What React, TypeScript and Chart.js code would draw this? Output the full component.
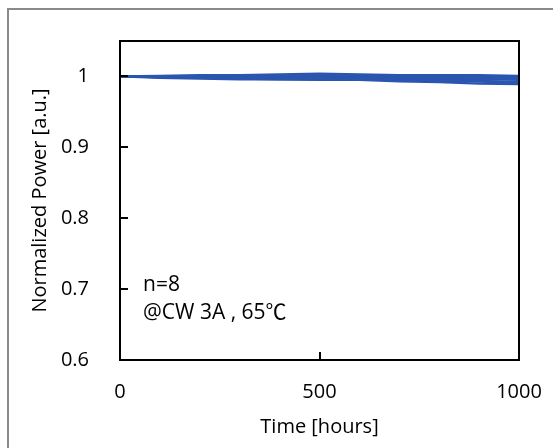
import React, { useEffect, useRef } from "react";
import { Chart, registerables } from "chart.js";

Chart.register(...registerables);

const hours = [0, 100, 200, 300, 400, 500, 600, 700, 800, 900, 1000];
const series1 = [1.0, 1.001, 1.002, 1.002, 1.003, 1.004, 1.003, 1.002, 1.002, 1.002, 1.001];
const series2 = [1.0, 1.0, 1.001, 1.001, 1.002, 1.002, 1.002, 1.001, 1.0, 1.0, 0.999];
const series3 = [1.0, 0.999, 0.998, 0.997, 0.996, 0.996, 0.996, 0.995, 0.994, 0.993, 0.992];
const series4 = [1.0, 0.998, 0.997, 0.996, 0.996, 0.995, 0.995, 0.993, 0.992, 0.99, 0.989];
const series5 = [1.0, 1.0, 1.0, 1.0, 1.0, 1.001, 1.0, 1.0, 0.999, 0.998, 0.997];
const series6 = [1.0, 0.999, 0.999, 0.998, 0.998, 0.998, 0.997, 0.996, 0.995, 0.994, 0.991];
const series7 = [1.0, 1.0, 0.999, 0.999, 0.999, 0.999, 0.999, 0.998, 0.997, 0.996, 0.995];
const series8 = [1.0, 0.999, 0.998, 0.998, 0.997, 0.997, 0.996, 0.995, 0.994, 0.993, 0.99];
const allSeries = [series1, series2, series3, series4, series5, series6, series7, series8];

const yTicks = [0.6, 0.7, 0.8, 0.9, 1.0];
const xTicks = [0, 500, 1000];
const yMin = 0.6;
const yMax = 1.05;
const xMin = 0;
const xMax = 1000;

const annotationLines = ["n=8", "@CW 3A , 65\u2103"];
const xTitle = "Time [hours]";
const yTitle = "Normalized Power [a.u.]";

const FONT = "'Open Sans', 'Noto Sans CJK KR', sans-serif";
const LINE_COLOR = "#2A56B0";

export default function App() {
  const ref = useRef<HTMLCanvasElement | null>(null);

  useEffect(() => {
    if (!ref.current) return;

    const framePlugin = {
      id: "framePlugin",
      beforeDraw(chart: any) {
        const ctx = chart.ctx;
        ctx.save();
        ctx.strokeStyle = "#8a8a8a";
        ctx.lineWidth = 2;
        ctx.strokeRect(8, 9, 600, 500);
        ctx.restore();
      },
      afterDraw(chart: any) {
        const ctx = chart.ctx;
        const a = chart.chartArea;
        const xs = chart.scales.x;
        const ys = chart.scales.y;
        ctx.save();
        ctx.strokeStyle = "#000";
        ctx.lineWidth = 2;
        ctx.beginPath();
        yTicks.forEach((v) => {
          if (v <= yMin || v >= yMax) return;
          const p = Math.round(ys.getPixelForValue(v));
          ctx.moveTo(a.left, p);
          ctx.lineTo(a.left + 8, p);
        });
        xTicks.forEach((v) => {
          if (v <= xMin || v >= xMax) return;
          const p = Math.round(xs.getPixelForValue(v));
          ctx.moveTo(p, a.bottom);
          ctx.lineTo(p, a.bottom - 8);
        });
        ctx.stroke();
        ctx.strokeRect(a.left, a.top, a.right - a.left, a.bottom - a.top);
        ctx.fillStyle = "#000";
        ctx.font = `21px ${FONT}`;
        ctx.textAlign = "left";
        ctx.textBaseline = "middle";
        annotationLines.forEach((t, i) => {
          ctx.fillText(t, a.left + 23, a.top + 244 + i * 28);
        });
        ctx.restore();
      },
    };

    const chart = new Chart(ref.current, {
      type: "line",
      data: {
        labels: hours,
        datasets: allSeries.map((s, i) => ({
          label: `S${i + 1}`,
          data: s.map((v, j) => ({ x: hours[j], y: v })),
          borderColor: LINE_COLOR,
          backgroundColor: LINE_COLOR,
          borderWidth: 2.2,
          pointRadius: 0,
          tension: 0,
          fill: false,
        })),
      },
      options: {
        animation: false,
        responsive: false,
        maintainAspectRatio: false,
        layout: { padding: { top: 41, right: 34, bottom: 0, left: 0 } },
        plugins: {
          legend: { display: false },
          tooltip: { enabled: false },
        },
        scales: {
          x: {
            type: "linear",
            min: xMin,
            max: xMax,
            grid: { display: false },
            border: { display: false },
            afterBuildTicks: (scale: any) => {
              scale.ticks = xTicks.map((v) => ({ value: v }));
            },
            afterFit: (scale: any) => {
              scale.height = 88;
              scale.paddingLeft = 0;
              scale.paddingRight = 0;
            },
            ticks: {
              color: "#000",
              font: { family: FONT, size: 20 },
              padding: 12,
              maxRotation: 0,
              callback: (v: any) => String(v),
            },
            title: {
              display: true,
              text: xTitle,
              color: "#000",
              font: { family: FONT, size: 20 },
              padding: { top: 0, bottom: 9 },
            },
          },
          y: {
            type: "linear",
            min: yMin,
            max: yMax,
            grid: { display: false },
            border: { display: false },
            afterBuildTicks: (scale: any) => {
              scale.ticks = yTicks.map((v) => ({ value: v }));
            },
            afterFit: (scale: any) => {
              scale.width = 120;
              scale.paddingTop = 0;
              scale.paddingBottom = 0;
            },
            ticks: {
              color: "#000",
              font: { family: FONT, size: 20 },
              padding: 23,
              callback: (v: any) => String(Math.round(Number(v) * 10) / 10),
            },
            title: {
              display: true,
              text: yTitle,
              color: "#000",
              font: { family: FONT, size: 20 },
              padding: { top: 28, bottom: 0 },
            },
          },
        },
      },
      plugins: [framePlugin],
    } as any);

    return () => chart.destroy();
  }, []);

  return (
    <div style={{ position: "fixed", left: 0, top: 0, width: 553, height: 448, background: "#fff" }}>
      <canvas ref={ref} width={553} height={448} style={{ display: "block", width: 553, height: 448 }} />
    </div>
  );
}
